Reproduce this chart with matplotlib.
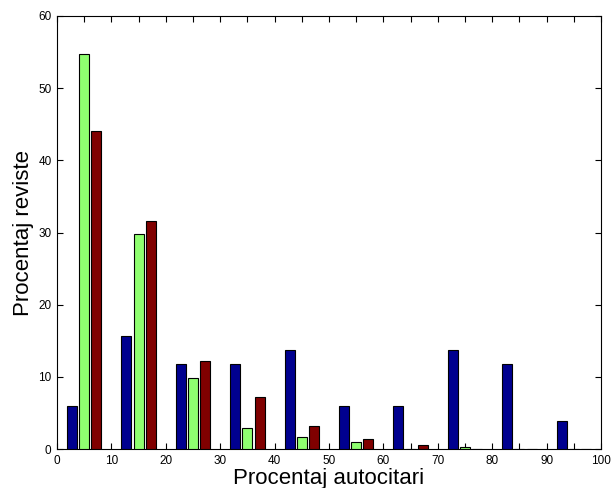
import matplotlib
matplotlib.use("Agg")
import matplotlib.pyplot as plt
import numpy as np

bin_centers = [5, 15, 25, 35, 45, 55, 65, 75, 85, 95]
series_a = [5.9, 15.7, 11.8, 11.8, 13.7, 5.9, 5.9, 13.7, 11.8, 3.9]
series_b = [54.8, 29.8, 9.9, 2.9, 1.7, 1.0, 0.0, 0.3, 0.0, 0.0]
series_c = [44.1, 31.6, 12.2, 7.2, 3.2, 1.4, 0.55, 0.0, 0.0, 0.0]
colors = ["#00008F", "#8FFF70", "#800000"]
xlabel = "Procentaj autocitari"
ylabel = "Procentaj reviste"

plt.rcParams['font.family'] = ['Liberation Sans', 'DejaVu Sans']

fig = plt.figure(figsize=(6.16, 4.88), dpi=100)
ax = fig.add_axes([57/616, 1-449/488, 544/616, 433/488])

x = np.array(bin_centers, dtype=float)
offset = 2.25
width = 1.85
for vals, dx, c in zip([series_a, series_b, series_c], [-offset, 0, offset], colors):
    ax.bar(x + dx, vals, width=width, color=c, edgecolor='black', linewidth=0.8, zorder=3)

ax.set_xlim(0, 100)
ax.set_ylim(0, 60)
ax.set_xticks(np.arange(0, 101, 10))
ax.set_xticks(np.arange(5, 100, 10), minor=True)
ax.set_yticks(np.arange(0, 61, 10))
ax.tick_params(axis='both', which='both', direction='in', top=True, right=True,
               length=4, width=0.8, labelsize=8.5, pad=4)
for s in ax.spines.values():
    s.set_linewidth(0.8)
ax.set_xlabel(xlabel, fontsize=16, labelpad=1)
ax.set_ylabel(ylabel, fontsize=16, labelpad=3)

fig.savefig("out.png", dpi=100)
